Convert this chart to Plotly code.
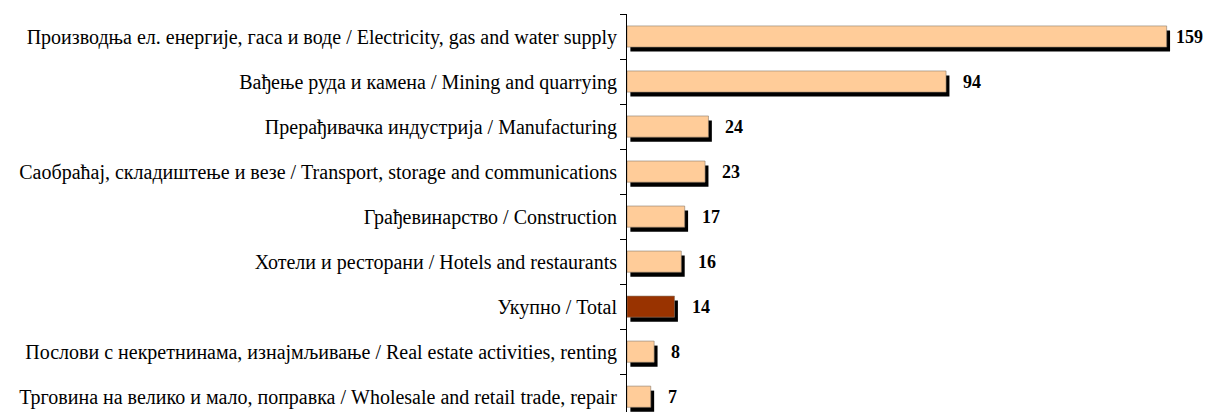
import plotly.graph_objects as go

categories = [
    "Производња ел. енергије, гаса и воде / Electricity, gas and water supply",
    "Вађење руда и камена / Mining and quarrying",
    "Прерађивачка индустрија / Manufacturing",
    "Саобраћај, складиштење и везе / Transport, storage and communications",
    "Грађевинарство / Construction",
    "Хотели и ресторани / Hotels and restaurants",
    "Укупно / Total",
    "Послови с некретнинама, изнајмљивање / Real estate activities, renting",
    "Трговина на велико и мало, поправка / Wholesale and retail trade, repair",
]
values = [159, 94, 24, 23, 17, 16, 14, 8, 7]
value_labels = ["159", "94", "24", "23", "17", "16", "14", "8", "7"]

colors = ["#993300" if "Total" in c else "#FFCC99" for c in categories]

fig = go.Figure()
# shadow
fig.add_trace(go.Bar(
    y=categories, x=values, base=[1] * len(values), orientation="h",
    width=0.47, offset=-0.235 + 0.1,
    marker=dict(color="black", line=dict(width=0)),
    hoverinfo="skip", showlegend=False,
))
fig.add_trace(go.Bar(
    y=categories, x=values, orientation="h",
    width=0.47, offset=-0.235,
    marker=dict(color=colors, line=dict(color="#8a7a6a", width=0.6)),
    showlegend=False,
))
vmax = max(values)
for c, v, t in zip(categories, values, value_labels):
    # the longest bar's label sits a little closer so it fits in the page
    shift = 7 if v == vmax else 15
    fig.add_annotation(x=v, y=c, text="<b>%s</b>" % t, showarrow=False,
                       xanchor="left", xshift=shift,
                       font=dict(family="Liberation Serif", size=18, color="black"))

fig.update_layout(
    width=1204, height=404,
    margin=dict(l=619, r=8, t=6, b=0),
    barmode="overlay",
    plot_bgcolor="white", paper_bgcolor="white",
    font=dict(family="Liberation Serif", size=20, color="black"),
)
fig.update_xaxes(range=[0, 170], visible=False, showgrid=False, zeroline=False)
fig.update_yaxes(range=[8.34, -0.5], showline=True, linecolor="black", linewidth=1,
                 ticks="outside", ticklen=6, tickcolor="black", tickson="boundaries",
                 showgrid=False, ticklabelstandoff=5,
                 tickfont=dict(family="Liberation Serif", size=20, color="black"))

fig.write_html("out.html")
